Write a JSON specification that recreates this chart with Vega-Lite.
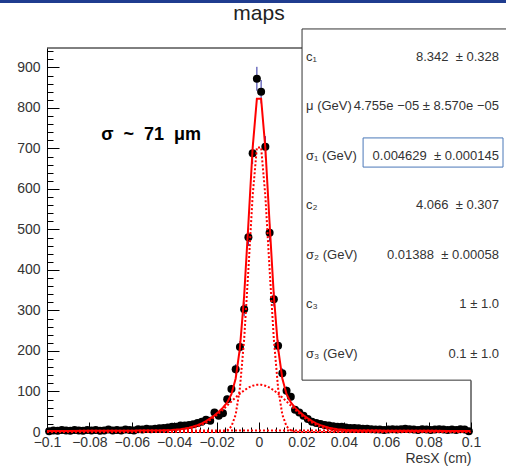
{
  "$schema": "https://vega.github.io/schema/vega-lite/v6.json",
  "width": 424,
  "height": 384,
  "autosize": {"type": "none"},
  "padding": {"left": 47, "top": 48, "right": 35, "bottom": 38},
  "background": "white",
  "config": {
    "view": {"stroke": null},
    "font": "Liberation Sans",
    "axis": {"grid": false, "labelFont": "Liberation Sans", "titleFont": "Liberation Sans"}
  },
  "datasets": {
    "pts": [
      {"x": -0.099, "n": 2, "e": 1.4}, {"x": -0.097, "n": 4, "e": 2}, {"x": -0.095, "n": 3, "e": 1.7}, {"x": -0.093, "n": 5, "e": 2.2},
      {"x": -0.091, "n": 4, "e": 2}, {"x": -0.089, "n": 3, "e": 1.7}, {"x": -0.087, "n": 5, "e": 2.2}, {"x": -0.085, "n": 4, "e": 2},
      {"x": -0.083, "n": 3, "e": 1.7}, {"x": -0.081, "n": 5, "e": 2.2}, {"x": -0.079, "n": 4, "e": 2}, {"x": -0.077, "n": 5, "e": 2.2},
      {"x": -0.075, "n": 3, "e": 1.7}, {"x": -0.073, "n": 4, "e": 2}, {"x": -0.071, "n": 6, "e": 2.4}, {"x": -0.069, "n": 4, "e": 2},
      {"x": -0.067, "n": 5, "e": 2.2}, {"x": -0.065, "n": 4, "e": 2}, {"x": -0.063, "n": 6, "e": 2.4}, {"x": -0.061, "n": 5, "e": 2.2},
      {"x": -0.059, "n": 4, "e": 2}, {"x": -0.057, "n": 7, "e": 2.6}, {"x": -0.055, "n": 6, "e": 2.4}, {"x": -0.053, "n": 8, "e": 2.8},
      {"x": -0.051, "n": 7, "e": 2.6}, {"x": -0.049, "n": 8, "e": 2.8}, {"x": -0.047, "n": 9, "e": 3}, {"x": -0.045, "n": 10, "e": 3.2},
      {"x": -0.043, "n": 11, "e": 3.3}, {"x": -0.041, "n": 13, "e": 3.6}, {"x": -0.039, "n": 13, "e": 3.6}, {"x": -0.037, "n": 16, "e": 4},
      {"x": -0.035, "n": 16, "e": 4}, {"x": -0.033, "n": 17, "e": 4.1}, {"x": -0.031, "n": 19, "e": 4.4}, {"x": -0.029, "n": 22, "e": 4.7},
      {"x": -0.027, "n": 25, "e": 5}, {"x": -0.025, "n": 30, "e": 5.5}, {"x": -0.023, "n": 28, "e": 5.3}, {"x": -0.021, "n": 48, "e": 6.9},
      {"x": -0.019, "n": 40, "e": 6.3}, {"x": -0.017, "n": 46, "e": 6.8}, {"x": -0.015, "n": 81, "e": 9}, {"x": -0.013, "n": 106, "e": 10.3},
      {"x": -0.011, "n": 155, "e": 12.4}, {"x": -0.009, "n": 210, "e": 14.5}, {"x": -0.007, "n": 303, "e": 17.4}, {"x": -0.005, "n": 481, "e": 21.9},
      {"x": -0.003, "n": 688, "e": 26.2}, {"x": -0.001, "n": 872, "e": 29.5},
      {"x": 0.001, "n": 840, "e": 29}, {"x": 0.003, "n": 704, "e": 26.5}, {"x": 0.005, "n": 492, "e": 22.2}, {"x": 0.007, "n": 328, "e": 18.1},
      {"x": 0.009, "n": 213, "e": 14.6}, {"x": 0.011, "n": 145, "e": 12}, {"x": 0.013, "n": 102, "e": 10.1}, {"x": 0.015, "n": 87, "e": 9.3},
      {"x": 0.017, "n": 55, "e": 7.4}, {"x": 0.019, "n": 48, "e": 6.9}, {"x": 0.021, "n": 40, "e": 6.3}, {"x": 0.023, "n": 32, "e": 5.7},
      {"x": 0.025, "n": 25, "e": 5}, {"x": 0.027, "n": 22, "e": 4.7}, {"x": 0.029, "n": 20, "e": 4.5}, {"x": 0.031, "n": 17, "e": 4.1},
      {"x": 0.033, "n": 16, "e": 4}, {"x": 0.035, "n": 14, "e": 3.7}, {"x": 0.037, "n": 13, "e": 3.6}, {"x": 0.039, "n": 13, "e": 3.6},
      {"x": 0.041, "n": 11, "e": 3.3}, {"x": 0.043, "n": 10, "e": 3.2}, {"x": 0.045, "n": 10, "e": 3.2}, {"x": 0.047, "n": 9, "e": 3},
      {"x": 0.049, "n": 8, "e": 2.8}, {"x": 0.051, "n": 8, "e": 2.8}, {"x": 0.053, "n": 7, "e": 2.6}, {"x": 0.055, "n": 6, "e": 2.4},
      {"x": 0.057, "n": 6, "e": 2.4}, {"x": 0.059, "n": 5, "e": 2.2}, {"x": 0.061, "n": 6, "e": 2.4}, {"x": 0.063, "n": 7, "e": 2.6},
      {"x": 0.065, "n": 6, "e": 2.4}, {"x": 0.067, "n": 7, "e": 2.6}, {"x": 0.069, "n": 8, "e": 2.8}, {"x": 0.071, "n": 7, "e": 2.6},
      {"x": 0.073, "n": 6, "e": 2.4}, {"x": 0.075, "n": 5, "e": 2.2}, {"x": 0.077, "n": 7, "e": 2.6}, {"x": 0.079, "n": 6, "e": 2.4},
      {"x": 0.081, "n": 5, "e": 2.2}, {"x": 0.083, "n": 6, "e": 2.4}, {"x": 0.085, "n": 7, "e": 2.6}, {"x": 0.087, "n": 6, "e": 2.4},
      {"x": 0.089, "n": 5, "e": 2.2}, {"x": 0.091, "n": 6, "e": 2.4}, {"x": 0.093, "n": 5, "e": 2.2}, {"x": 0.095, "n": 7, "e": 2.6},
      {"x": 0.097, "n": 6, "e": 2.4}, {"x": 0.099, "n": 2, "e": 1.4}
    ],
    "fit": [
      {"x": -0.1, "tot": 2.42, "g1": 0, "g2": 0, "g3": 2.42},
      {"x": -0.09, "tot": 2.66, "g1": 0, "g2": 0, "g3": 2.66},
      {"x": -0.08, "tot": 2.9, "g1": 0, "g2": 0, "g3": 2.9},
      {"x": -0.07, "tot": 3.12, "g1": 0, "g2": 0, "g3": 3.12},
      {"x": -0.059, "tot": 3.34, "g1": 0, "g2": 0.01, "g3": 3.33},
      {"x": -0.057, "tot": 3.4, "g1": 0, "g2": 0.03, "g3": 3.37},
      {"x": -0.055, "tot": 3.46, "g1": 0, "g2": 0.05, "g3": 3.41},
      {"x": -0.053, "tot": 3.53, "g1": 0, "g2": 0.08, "g3": 3.45},
      {"x": -0.051, "tot": 3.63, "g1": 0, "g2": 0.14, "g3": 3.49},
      {"x": -0.049, "tot": 3.75, "g1": 0, "g2": 0.23, "g3": 3.52},
      {"x": -0.047, "tot": 3.94, "g1": 0, "g2": 0.38, "g3": 3.56},
      {"x": -0.045, "tot": 4.2, "g1": 0, "g2": 0.61, "g3": 3.59},
      {"x": -0.043, "tot": 4.59, "g1": 0, "g2": 0.96, "g3": 3.63},
      {"x": -0.041, "tot": 5.15, "g1": 0, "g2": 1.49, "g3": 3.66},
      {"x": -0.039, "tot": 5.95, "g1": 0, "g2": 2.26, "g3": 3.69},
      {"x": -0.037, "tot": 7.07, "g1": 0, "g2": 3.35, "g3": 3.72},
      {"x": -0.035, "tot": 8.62, "g1": 0, "g2": 4.87, "g3": 3.75},
      {"x": -0.033, "tot": 10.7, "g1": 0, "g2": 6.93, "g3": 3.77},
      {"x": -0.031, "tot": 13.45, "g1": 0, "g2": 9.65, "g3": 3.8},
      {"x": -0.029, "tot": 17.0, "g1": 0, "g2": 13.2, "g3": 3.82},
      {"x": -0.027, "tot": 21.4, "g1": 0, "g2": 17.6, "g3": 3.84},
      {"x": -0.025, "tot": 27.0, "g1": 0, "g2": 23.1, "g3": 3.87},
      {"x": -0.023, "tot": 33.5, "g1": 0, "g2": 29.6, "g3": 3.88},
      {"x": -0.021, "tot": 41.1, "g1": 0.02, "g2": 37.2, "g3": 3.9},
      {"x": -0.019, "tot": 49.9, "g1": 0.16, "g2": 45.8, "g3": 3.92},
      {"x": -0.017, "tot": 60.0, "g1": 0.85, "g2": 55.2, "g3": 3.93},
      {"x": -0.015, "tot": 72.9, "g1": 3.8, "g2": 65.2, "g3": 3.95},
      {"x": -0.013, "tot": 93.3, "g1": 13.9, "g2": 75.4, "g3": 3.96},
      {"x": -0.011, "tot": 132.1, "g1": 42.7, "g2": 85.4, "g3": 3.97},
      {"x": -0.009, "tot": 207.3, "g1": 108.6, "g2": 94.7, "g3": 3.97},
      {"x": -0.007, "tot": 336.1, "g1": 229.2, "g2": 102.9, "g3": 3.98},
      {"x": -0.005, "tot": 514.8, "g1": 401.2, "g2": 109.6, "g3": 3.99},
      {"x": -0.003, "tot": 701.0, "g1": 582.8, "g2": 114.2, "g3": 3.99},
      {"x": -0.001, "tot": 823.0, "g1": 702.4, "g2": 116.6, "g3": 3.99},
      {"x": 0.001, "tot": 823.0, "g1": 702.4, "g2": 116.6, "g3": 3.99},
      {"x": 0.003, "tot": 701.0, "g1": 582.8, "g2": 114.2, "g3": 3.99},
      {"x": 0.005, "tot": 514.8, "g1": 401.2, "g2": 109.6, "g3": 3.99},
      {"x": 0.007, "tot": 336.1, "g1": 229.2, "g2": 102.9, "g3": 3.98},
      {"x": 0.009, "tot": 207.3, "g1": 108.6, "g2": 94.7, "g3": 3.97},
      {"x": 0.011, "tot": 132.1, "g1": 42.7, "g2": 85.4, "g3": 3.97},
      {"x": 0.013, "tot": 93.3, "g1": 13.9, "g2": 75.4, "g3": 3.96},
      {"x": 0.015, "tot": 72.9, "g1": 3.8, "g2": 65.2, "g3": 3.95},
      {"x": 0.017, "tot": 60.0, "g1": 0.85, "g2": 55.2, "g3": 3.93},
      {"x": 0.019, "tot": 49.9, "g1": 0.16, "g2": 45.8, "g3": 3.92},
      {"x": 0.021, "tot": 41.1, "g1": 0.02, "g2": 37.2, "g3": 3.9},
      {"x": 0.023, "tot": 33.5, "g1": 0, "g2": 29.6, "g3": 3.88},
      {"x": 0.025, "tot": 27.0, "g1": 0, "g2": 23.1, "g3": 3.87},
      {"x": 0.027, "tot": 21.4, "g1": 0, "g2": 17.6, "g3": 3.84},
      {"x": 0.029, "tot": 17.0, "g1": 0, "g2": 13.2, "g3": 3.82},
      {"x": 0.031, "tot": 13.45, "g1": 0, "g2": 9.65, "g3": 3.8},
      {"x": 0.033, "tot": 10.7, "g1": 0, "g2": 6.93, "g3": 3.77},
      {"x": 0.035, "tot": 8.62, "g1": 0, "g2": 4.87, "g3": 3.75},
      {"x": 0.037, "tot": 7.07, "g1": 0, "g2": 3.35, "g3": 3.72},
      {"x": 0.039, "tot": 5.95, "g1": 0, "g2": 2.26, "g3": 3.69},
      {"x": 0.041, "tot": 5.15, "g1": 0, "g2": 1.49, "g3": 3.66},
      {"x": 0.043, "tot": 4.59, "g1": 0, "g2": 0.96, "g3": 3.63},
      {"x": 0.045, "tot": 4.2, "g1": 0, "g2": 0.61, "g3": 3.59},
      {"x": 0.047, "tot": 3.94, "g1": 0, "g2": 0.38, "g3": 3.56},
      {"x": 0.049, "tot": 3.75, "g1": 0, "g2": 0.23, "g3": 3.52},
      {"x": 0.051, "tot": 3.63, "g1": 0, "g2": 0.14, "g3": 3.49},
      {"x": 0.053, "tot": 3.53, "g1": 0, "g2": 0.08, "g3": 3.45},
      {"x": 0.055, "tot": 3.46, "g1": 0, "g2": 0.05, "g3": 3.41},
      {"x": 0.057, "tot": 3.4, "g1": 0, "g2": 0.03, "g3": 3.37},
      {"x": 0.059, "tot": 3.34, "g1": 0, "g2": 0.01, "g3": 3.33},
      {"x": 0.07, "tot": 3.12, "g1": 0, "g2": 0, "g3": 3.12},
      {"x": 0.08, "tot": 2.9, "g1": 0, "g2": 0, "g3": 2.9},
      {"x": 0.09, "tot": 2.66, "g1": 0, "g2": 0, "g3": 2.66},
      {"x": 0.1, "tot": 2.42, "g1": 0, "g2": 0, "g3": 2.42}
    ],
    "stats": [
      {"label": "c₁", "value": "8.342\u00a0\u00a0± 0.328"},
      {"label": "μ (GeV)", "value": "4.755e −05 ± 8.570e −05"},
      {"label": "σ₁ (GeV)", "value": "0.004629\u00a0\u00a0± 0.000145"},
      {"label": "c₂", "value": "4.066\u00a0\u00a0± 0.307"},
      {"label": "σ₂ (GeV)", "value": "0.01388\u00a0\u00a0± 0.00058"},
      {"label": "c₃", "value": "1 ± 1.0"},
      {"label": "σ₃ (GeV)", "value": "0.1 ± 1.0"}
    ]
  },
  "layer": [
    {
      "layer": [
        {
          "data": {"values": [{}]},
          "mark": {"type": "rect", "color": "#1f3c8f", "clip": false},
          "encoding": {
            "x": {"datum": -0.13, "type": "quantitative", "axis": null, "scale": {"domain": [-0.1, 0.1], "nice": false, "zero": false}},
            "x2": {"datum": 0.13},
            "y": {"datum": 1066.5, "type": "quantitative", "axis": null, "scale": {"domain": [0, 948], "nice": false, "zero": false}},
            "y2": {"datum": 1059}
          }
        },
        {
          "data": {"name": "pts"},
          "mark": {"type": "errorbar", "color": "#2a2aa0", "thickness": 1},
          "encoding": {
            "x": {"field": "x", "type": "quantitative", "axis": null},
            "y": {"field": "n", "type": "quantitative", "axis": null},
            "yError": {"field": "e"}
          }
        },
        {
          "data": {"name": "pts"},
          "mark": {"type": "circle", "size": 64, "color": "black", "opacity": 1},
          "encoding": {
            "x": {"field": "x", "type": "quantitative",
              "axis": {"orient": "bottom", "values": [-0.1, -0.08, -0.06, -0.04, -0.02, 0, 0.02, 0.04, 0.06, 0.08, 0.1], "format": "~g",
                "ticks": false, "domain": true, "domainColor": "black", "labelFontSize": 14, "labelColor": "#333", "labelPadding": 3,
                "labelOverlap": false, "labelBound": false, "labelFlush": false,
                "title": "ResX (cm)", "titleAnchor": "end", "titleFontSize": 14, "titleFontWeight": "normal", "titleColor": "#333", "titlePadding": 2}},
            "y": {"field": "n", "type": "quantitative",
              "axis": {"orient": "left", "values": [0, 100, 200, 300, 400, 500, 600, 700, 800, 900], "ticks": false, "domain": true, "domainColor": "black",
                "labelFontSize": 14, "labelColor": "#333", "labelPadding": 7, "labelOverlap": false, "labelBound": false, "title": null}}
          }
        },
        {
          "data": {"name": "fit"},
          "transform": [{"fold": ["g1", "g2", "g3"], "as": ["comp", "val"]}],
          "mark": {"type": "line", "color": "#ff0000", "strokeWidth": 2, "strokeDash": [2, 2]},
          "encoding": {
            "x": {"field": "x", "type": "quantitative",
              "axis": {"orient": "bottom", "values": [-0.1, -0.096, -0.092, -0.088, -0.084, -0.08, -0.076, -0.072, -0.068, -0.064, -0.06, -0.056, -0.052, -0.048, -0.044, -0.04, -0.036, -0.032, -0.028, -0.024, -0.02, -0.016, -0.012, -0.008, -0.004, 0, 0.004, 0.008, 0.012, 0.016, 0.02, 0.024, 0.028, 0.032, 0.036, 0.04, 0.044, 0.048, 0.052, 0.056, 0.06, 0.064, 0.068, 0.072, 0.076, 0.08, 0.084, 0.088, 0.092, 0.096, 0.1],
                "labels": false, "domain": false, "ticks": true, "tickSize": -5, "tickColor": "black", "tickWidth": 1, "title": null}},
            "y": {"field": "val", "type": "quantitative",
              "axis": {"orient": "left", "values": [0, 20, 40, 60, 80, 100, 120, 140, 160, 180, 200, 220, 240, 260, 280, 300, 320, 340, 360, 380, 400, 420, 440, 460, 480, 500, 520, 540, 560, 580, 600, 620, 640, 660, 680, 700, 720, 740, 760, 780, 800, 820, 840, 860, 880, 900, 920, 940],
                "labels": false, "domain": false, "ticks": true, "tickSize": -6, "tickColor": "black", "tickWidth": 1, "title": null}},
            "detail": {"field": "comp"}
          }
        },
        {
          "data": {"name": "fit"},
          "mark": {"type": "line", "color": "#ff0000", "strokeWidth": 2},
          "encoding": {
            "x": {"field": "x", "type": "quantitative",
              "axis": {"orient": "bottom", "values": [-0.1, -0.08, -0.06, -0.04, -0.02, 0, 0.02, 0.04, 0.06, 0.08, 0.1],
                "labels": false, "domain": false, "ticks": true, "tickSize": -10, "tickColor": "black", "tickWidth": 1, "title": null}},
            "y": {"field": "tot", "type": "quantitative",
              "axis": {"orient": "left", "values": [0, 100, 200, 300, 400, 500, 600, 700, 800, 900],
                "labels": false, "domain": false, "ticks": true, "tickSize": -12, "tickColor": "black", "tickWidth": 1, "title": null}}
          }
        },
        {
          "data": {"values": [{}]},
          "mark": {"type": "text", "text": "σ\u00a0\u00a0~\u00a0\u00a071\u00a0\u00a0μm", "fontSize": 18, "fontWeight": "bold", "color": "black", "align": "center", "baseline": "middle"},
          "encoding": {
            "x": {"datum": -0.0509, "type": "quantitative", "axis": null},
            "y": {"datum": 733, "type": "quantitative", "axis": null}
          }
        },
        {
          "data": {"values": [{}]},
          "mark": {"type": "text", "text": "maps", "fontSize": 21, "color": "#222", "align": "center", "baseline": "alphabetic"},
          "encoding": {
            "x": {"datum": 0, "type": "quantitative", "axis": null},
            "y": {"datum": 1018, "type": "quantitative", "axis": null}
          }
        },
        {
          "data": {"values": [{}]},
          "mark": {"type": "rule", "color": "black", "strokeWidth": 1},
          "encoding": {
            "x": {"datum": -0.1, "type": "quantitative", "axis": null},
            "x2": {"datum": 0.0203},
            "y": {"datum": 948, "type": "quantitative", "axis": null}
          }
        },
        {
          "data": {"values": [{}]},
          "mark": {"type": "rule", "color": "black", "strokeWidth": 1},
          "encoding": {
            "x": {"datum": 0.1, "type": "quantitative", "axis": null},
            "y": {"datum": 0, "type": "quantitative", "axis": null},
            "y2": {"datum": 128}
          }
        },
        {
          "data": {"values": [{}]},
          "mark": {"type": "rect", "fill": "white", "strokeWidth": 0, "clip": false},
          "encoding": {
            "x": {"datum": 0.0203, "type": "quantitative", "axis": null},
            "x2": {"datum": 0.14},
            "y": {"datum": 128, "type": "quantitative", "axis": null},
            "y2": {"datum": 995}
          }
        },
        {
          "data": {"values": [{}]},
          "mark": {"type": "rule", "color": "#333", "strokeWidth": 1},
          "encoding": {
            "x": {"datum": 0.0203, "type": "quantitative", "axis": null},
            "x2": {"datum": 0.14},
            "y": {"datum": 995, "type": "quantitative", "axis": null}
          }
        },
        {
          "data": {"values": [{}]},
          "mark": {"type": "rule", "color": "#333", "strokeWidth": 1},
          "encoding": {
            "x": {"datum": 0.0203, "type": "quantitative", "axis": null},
            "y": {"datum": 128, "type": "quantitative", "axis": null},
            "y2": {"datum": 995}
          }
        },
        {
          "data": {"values": [{}]},
          "mark": {"type": "rule", "color": "#333", "strokeWidth": 1},
          "encoding": {
            "x": {"datum": 0.0203, "type": "quantitative", "axis": null},
            "x2": {"datum": 0.1},
            "y": {"datum": 128, "type": "quantitative", "axis": null}
          }
        },
        {
          "data": {"values": [{}]},
          "mark": {"type": "rect", "fill": null, "fillOpacity": 0, "stroke": "#4a78b8", "strokeWidth": 1, "clip": false},
          "encoding": {
            "x": {"datum": 0.0491, "type": "quantitative", "axis": null},
            "x2": {"datum": 0.1151},
            "y": {"datum": 654, "type": "quantitative", "axis": null},
            "y2": {"datum": 726}
          }
        }
      ],
      "resolve": {"axis": {"x": "independent", "y": "independent"}}
    },
    {
      "data": {"name": "stats"},
      "layer": [
        {
          "mark": {"type": "text", "align": "left", "baseline": "middle", "fontSize": 13, "color": "#333"},
          "encoding": {
            "x": {"datum": 0.0222, "type": "quantitative", "axis": null},
            "y": {"field": "label", "type": "nominal", "sort": null, "scale": {"type": "point", "padding": 0.879, "align": 0.103}, "axis": null},
            "text": {"field": "label"}
          }
        },
        {
          "mark": {"type": "text", "align": "right", "baseline": "middle", "fontSize": 13, "color": "#333"},
          "encoding": {
            "x": {"datum": 0.1132, "type": "quantitative", "axis": null},
            "y": {"field": "label", "type": "nominal", "sort": null, "axis": null},
            "text": {"field": "value"}
          }
        }
      ]
    }
  ],
  "resolve": {"scale": {"y": "independent"}}
}
